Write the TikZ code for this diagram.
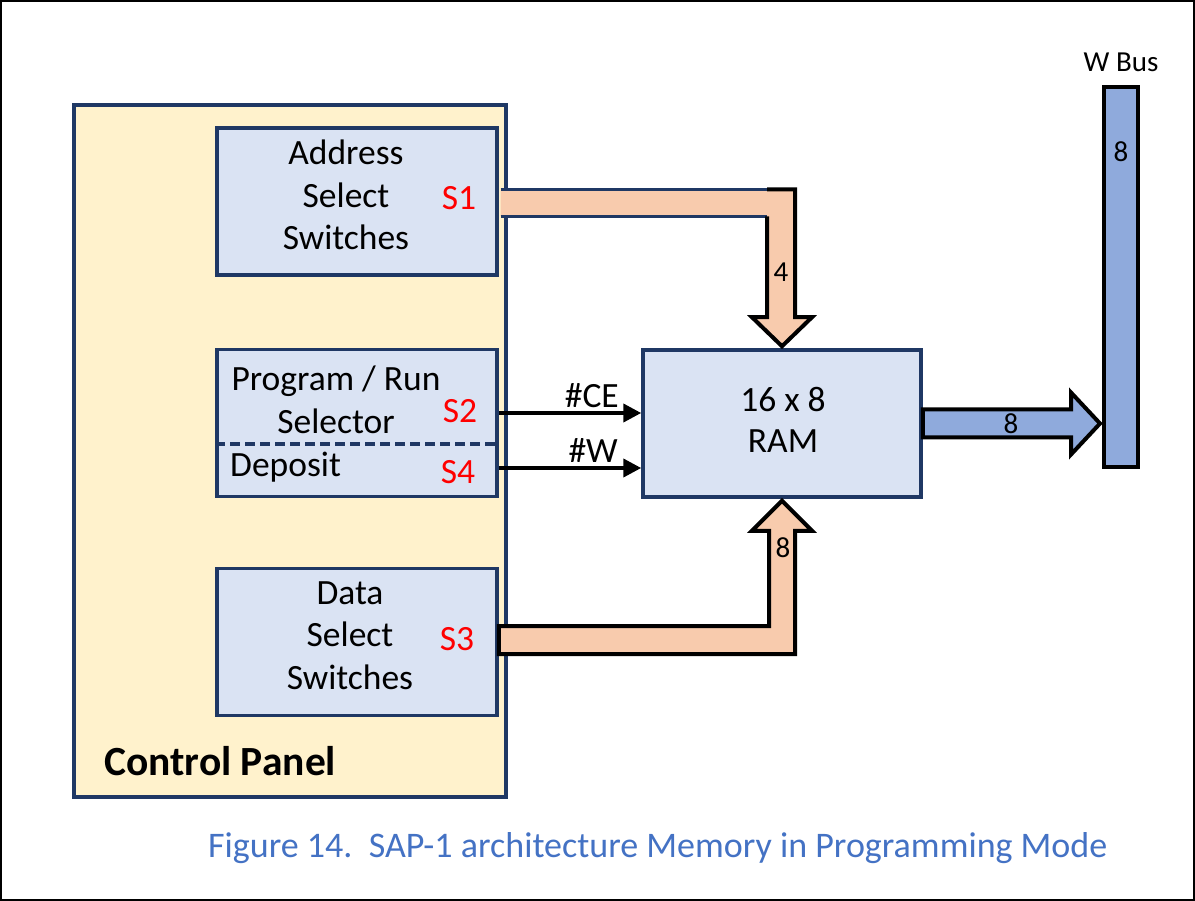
\documentclass[tikz,border=0pt]{standalone}
\usepackage{fontspec}
\setmainfont{Carlito}
\usetikzlibrary{positioning,calc,arrows.meta}
\definecolor{panelyellow}{HTML}{FFF2CC}
\definecolor{boxblue}{HTML}{DAE3F3}
\definecolor{framenavy}{HTML}{1F3864}
\definecolor{buspeach}{HTML}{F8CBAD}
\definecolor{busblue}{HTML}{8FAADC}
\definecolor{captionblue}{HTML}{4472C4}
\begin{document}
\begin{tikzpicture}[x=1pt,y=-1pt,
  panelbox/.style={draw=framenavy,line width=3.5pt,fill=panelyellow,minimum width=432pt,minimum height=692pt,inner sep=0pt},
  unitbox/.style={draw=framenavy,line width=3.5pt,fill=boxblue,minimum width=280pt,minimum height=147pt,inner sep=0pt},
  txt/.style={inner sep=0pt,anchor=base,font=\fontsize{35.5}{43}\selectfont},
  swlabel/.style={txt,text=red},
  numlabel/.style={inner sep=0pt,anchor=base,font=\fontsize{29}{34}\selectfont},
  busarrow/.style={draw=black,line width=4pt,line join=miter},
  sigarrow/.style={line width=4pt,-{Triangle[length=18pt,width=18pt]}}
]

\useasboundingbox (0,0) rectangle (1195,901);
\draw[line width=2.5pt] (1,1) rectangle (1194,900);

\node[panelbox] (panel) at (290,451) {};
\node[unitbox] (addr) at (357,201.5) {};
\node[unitbox] (prog) at (357,423) {};
\node[unitbox] (data) at (357,642) {};
\node[unitbox,minimum width=278pt] (ram) at (782,423.5) {};
\node[draw=black,line width=4pt,fill=busblue,minimum width=34pt,minimum height=380pt,inner sep=0pt] (wbus) at (1121,277) {};

\draw[framenavy,line width=3.5pt,dash pattern=on 10pt off 5pt] ($(prog.west)+(0,21)$) -- ($(prog.east)+(0,21)$);

\coordinate (abend) at (ram.north |- addr.east);
\fill[buspeach] ($(addr.east)+(1.75,-12)$) -- ($(abend)+(13,-12)$) -- ($(ram.north)+(13,-31)$) -- ($(ram.north)+(30,-31)$) -- ($(ram.north)+(0,-2)$) -- ($(ram.north)+(-30,-31)$) -- ($(ram.north)+(-15,-31)$) -- ($(abend)+(-15,15)$) -- ($(addr.east)+(1.75,15)$) -- cycle;
\draw[framenavy,line width=3.5pt] ($(addr.east)+(1.75,-12)$) -- ($(abend)+(-15,-12)$) ($(addr.east)+(1.75,15)$) -- ($(abend)+(-15,15)$);
\draw[busarrow] ($(abend)+(-15,-12)$) -- ($(abend)+(13,-12)$) -- ($(ram.north)+(13,-31)$) -- ($(ram.north)+(30,-31)$) -- ($(ram.north)+(0,-2)$) -- ($(ram.north)+(-30,-31)$) -- ($(ram.north)+(-15,-31)$) -- ($(abend)+(-15,15)$);

\coordinate (dbend) at (ram.south |- data.east);
\filldraw[busarrow,fill=buspeach] ($(data.east)+(0,-16)$) -- ($(dbend)+(-13,-16)$) -- ($(ram.south)+(-13,32)$) -- ($(ram.south)+(-30,32)$) -- ($(ram.south)+(0,2)$) -- ($(ram.south)+(30,32)$) -- ($(ram.south)+(13,32)$) -- ($(dbend)+(13,12)$) -- ($(data.east)+(0,12)$) -- cycle;

\coordinate (wtip) at (wbus.west |- ram.east);
\filldraw[busarrow,fill=busblue] ($(ram.east)+(0,-14)$) -- ($(wtip)+(-31,-14)$) -- ($(wtip)+(-31,-31)$) -- ($(wtip)+(-2,0)$) -- ($(wtip)+(-31,31)$) -- ($(wtip)+(-31,14)$) -- ($(ram.east)+(0,14)$) -- cycle;

\coordinate (ceout) at ($(prog.east)+(0,-10)$);
\coordinate (wout) at ($(prog.east)+(0,45)$);
\draw[sigarrow] (ceout) -- (ceout -| ram.west);
\draw[sigarrow] (wout) -- (wout -| ram.west);
\node[txt,anchor=base east] (celabel) at (619,407) {\#CE};
\node[txt,anchor=base east] (wlabel) at (618,462) {\#W};

\foreach \t [count=\i] in {Address,Select,Switches}
{
    \node[txt] (addr\i) at (346,122.5+42.5*\i) {\t};
}
\foreach \t [count=\i] in {Data,Select,Switches}
{
    \node[txt] (data\i) at (350,561.5+42.5*\i) {\t};
}
\node[txt] (prog1) at (336,391) {Program / Run};
\node[txt] (prog2) at (336,433) {Selector};
\node[txt,anchor=base west] (prog3) at (230,476) {Deposit};
\node[txt] (ram1) at (783,412) {16 x 8};
\node[txt] (ram2) at (783,453) {RAM};

\node[swlabel] (s1) at (459,210) {S1};
\node[swlabel] (s2) at (460,423) {S2};
\node[swlabel] (s4) at (458,483) {S4};
\node[swlabel] (s3) at (457,650) {S3};

\node[numlabel] (wbuslabel) at (1121,72) {W Bus};
\node[numlabel] (wbuswidth) at (1121,162) {8};
\node[numlabel] (addrwidth) at (781,282) {4};
\node[numlabel] (datawidth) at (783,557) {8};
\node[numlabel] (ramwidth) at (1011,433) {8};

\node[inner sep=0pt,anchor=base west,font=\fontsize{41.5}{48}\selectfont\bfseries] (paneltitle) at (104,775) {Control Panel};
\node[inner sep=0pt,anchor=base west,text=captionblue,font=\fontsize{36}{44}\selectfont] (caption) at (208,857) {Figure 14.\ \ SAP-1 architecture Memory in Programming Mode};

\end{tikzpicture}
\end{document}
